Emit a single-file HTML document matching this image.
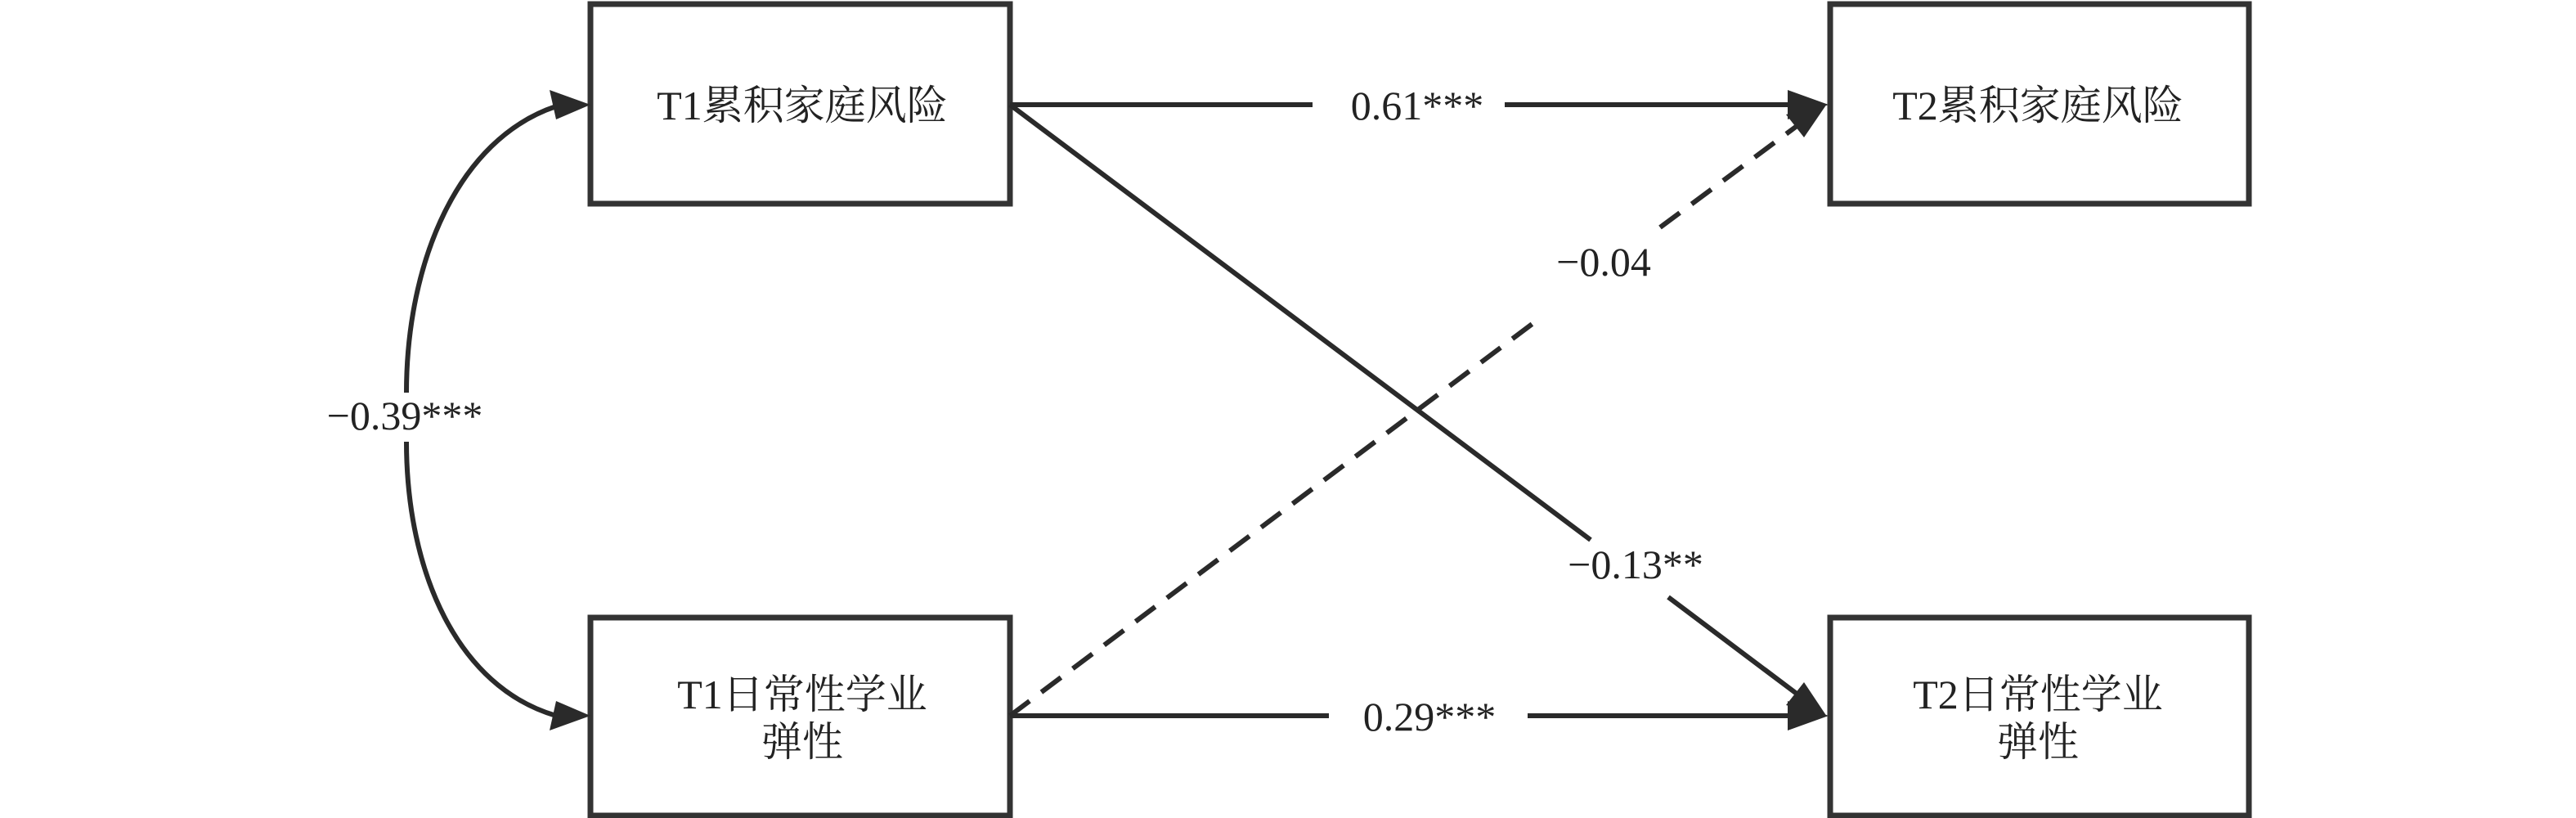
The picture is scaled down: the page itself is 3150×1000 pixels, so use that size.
<!DOCTYPE html>
<html><head><meta charset="utf-8"><style>
html,body{margin:0;padding:0;background:#fff;}
svg{display:block}
text{font-family:"Liberation Serif","Noto Serif CJK SC",serif;fill:#222;}
</style></head><body>
<svg width="3150" height="1000" viewBox="0 0 3150 1000" xmlns="http://www.w3.org/2000/svg">
<g stroke="#333" stroke-width="7" fill="#fff">
<rect x="722" y="5" width="513" height="244"/>
<rect x="2238" y="5" width="512" height="244"/>
<rect x="722" y="755" width="513" height="242"/>
<rect x="2238" y="755" width="512" height="242"/>
</g>
<g stroke="#2a2a2a" stroke-width="6" fill="none">
<path d="M680,130 C560,170 497,320 497,480"/>
<path d="M497,540 C497,700 560,840 680,875"/>
<line x1="1235" y1="128" x2="1605" y2="128"/>
<line x1="1840" y1="128" x2="2190" y2="128"/>
<line x1="1235" y1="875" x2="1625" y2="875"/>
<line x1="1868" y1="875" x2="2190" y2="875"/>
<line x1="1235" y1="128" x2="1945" y2="660"/>
<line x1="2040" y1="730" x2="2197" y2="848"/>
<line x1="1235" y1="875" x2="1875" y2="395" stroke-dasharray="30,18"/>
<line x1="2030" y1="278" x2="2200" y2="152" stroke-dasharray="30,18"/>
</g>
<g fill="#2a2a2a">
<polygon points="722,128 672,110 680,146"/>
<polygon points="722,875 680,857 672,893"/>
<polygon points="2236,128 2186,110 2186,146"/>
<polygon points="2236,875 2186,857 2186,893"/>
<polygon points="2234,876 2184,862 2206,834"/>
<polygon points="2234,127 2206,168 2184,140"/>
</g>
<g font-size="50" text-anchor="middle">
<text x="495" y="525">−0.39***</text>
<text x="1733" y="146">0.61***</text>
<text x="1748" y="893">0.29***</text>
<text x="1961" y="337">−0.04</text>
<text x="2000" y="707">−0.13**</text>
</g>
<g font-size="50" text-anchor="middle">
<text x="981" y="146">T1累积家庭风险</text>
<text x="2492" y="146">T2累积家庭风险</text>
<text x="981" y="866">T1日常性学业</text>
<text x="981" y="924">弹性</text>
<text x="2492" y="866">T2日常性学业</text>
<text x="2492" y="924">弹性</text>
</g>
</svg>
</body></html>
